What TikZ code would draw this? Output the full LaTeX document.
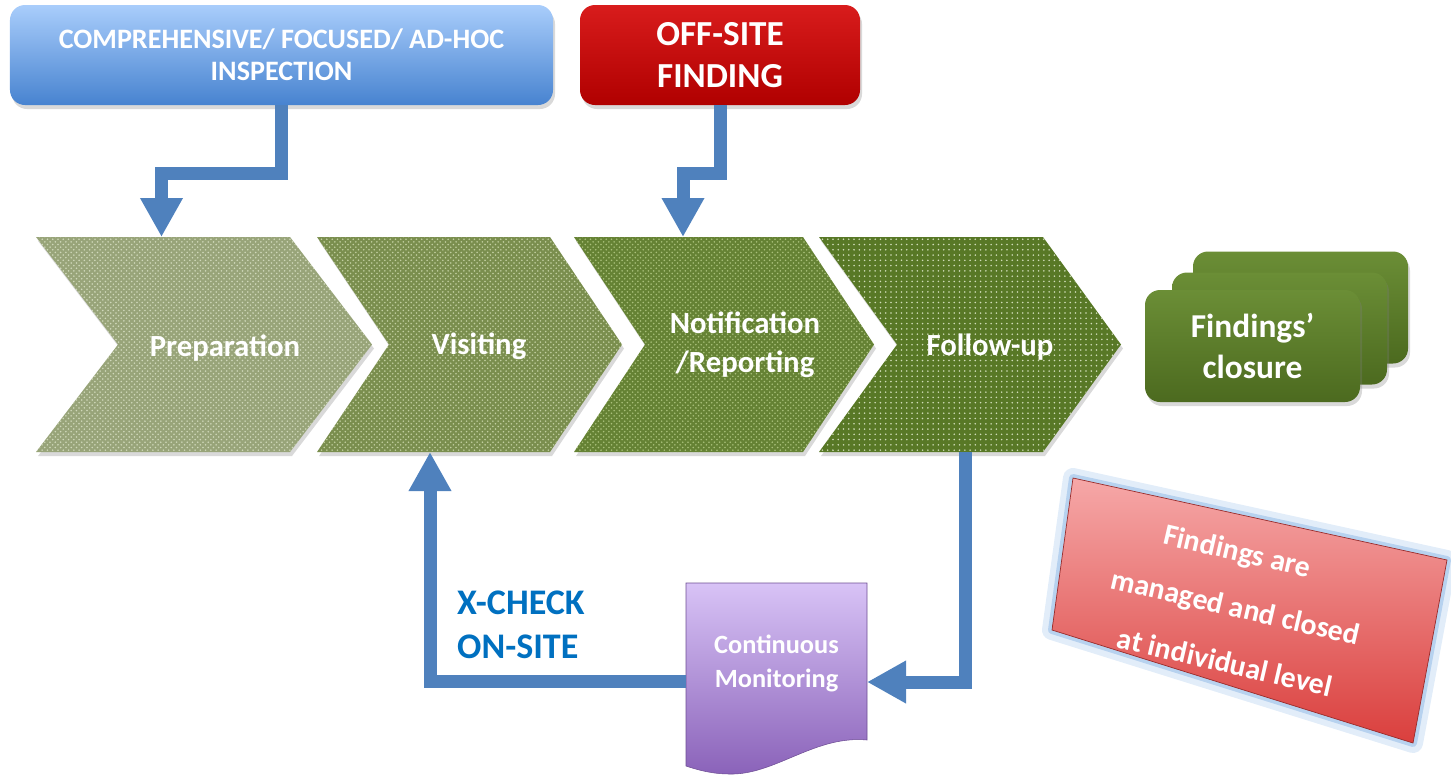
\documentclass[tikz,border=0pt]{standalone}
\usepackage{fontspec}
\setmainfont{Carlito}
\usetikzlibrary{arrows.meta,patterns,shadows}

\definecolor{flowblue}{HTML}{4F81BD}
\definecolor{xblue}{HTML}{0070C0}
\definecolor{inspT}{HTML}{A9CDFB}
\definecolor{inspB}{HTML}{4783D0}
\definecolor{offT}{HTML}{D81C1C}
\definecolor{offB}{HTML}{B00000}
\definecolor{greenT}{HTML}{6B8E36}
\definecolor{greenB}{HTML}{4C6A1F}
\definecolor{chevA}{HTML}{98A479}
\definecolor{chevAdot}{HTML}{D0D8BA}
\definecolor{chevB}{HTML}{7A8E4E}
\definecolor{chevBdot}{HTML}{C2CFA0}
\definecolor{chevC}{HTML}{658234}
\definecolor{chevCdot}{HTML}{A9C07A}
\definecolor{chevD}{HTML}{587826}
\definecolor{chevDdot}{HTML}{D0DCB8}
\definecolor{monT}{HTML}{D8C3F6}
\definecolor{monB}{HTML}{8A62B9}
\definecolor{noteT}{HTML}{F6A8A8}
\definecolor{noteB}{HTML}{DA3F3D}
\definecolor{glow}{HTML}{8DB7E6}

\tikzset{
  flow/.style={draw=flowblue, line width=2.6mm, line join=miter,
    -{Triangle[length=7.8mm,width=8mm]}},
  softshadow/.style={drop shadow={opacity=0.3, shadow xshift=0.4mm, shadow yshift=-0.8mm}},
  srcbox/.style={rounded corners=3mm, minimum height=20mm, inner sep=0pt,
    text=white, align=center, softshadow},
  closebox/.style={rounded corners=3mm, top color=greenT, bottom color=greenB,
    minimum width=43mm, minimum height=22.4mm, inner sep=0pt,
    text=white, align=center, softshadow},
  steptext/.style={text=white, align=center,
    font=\fontsize{17.5}{22}\selectfont\bfseries},
  notetext/.style={text=white, rotate=-13,
    font=\fontsize{17}{20}\selectfont\bfseries},
}

\begin{document}
\begin{tikzpicture}[x=0.2mm, y=-0.2mm]
\useasboundingbox (0,0) rectangle (1451,777);

% sources
\node[srcbox, top color=inspT, bottom color=inspB, minimum width=108.6mm,
  font=\fontsize{16}{18}\selectfont\bfseries] (insp) at (281.5,55)
  {COMPREHENSIVE/ FOCUSED/ AD-HOC\\INSPECTION};
\node[srcbox, top color=offT, bottom color=offB, minimum width=56mm,
  font=\fontsize{20}{23.5}\selectfont\bfseries] (off) at (720,55)
  {OFF-SITE\\FINDING};

% process chevrons
\path[softshadow, fill=chevA, postaction={pattern=crosshatch dots, pattern color=chevAdot}]
  (36,237) -- (290,237) -- (372,344.5) -- (290,452) -- (36,452) -- (118,344.5) -- cycle;
\path[softshadow, fill=chevB, postaction={pattern=crosshatch dots, pattern color=chevBdot}]
  (317,237) -- (550,237) -- (622,344.5) -- (550,452) -- (317,452) -- (389,344.5) -- cycle;
\path[softshadow, fill=chevC, postaction={pattern=crosshatch dots, pattern color=chevCdot}]
  (574,237) -- (803,237) -- (874,344.5) -- (803,452) -- (574,452) -- (645,344.5) -- cycle;
\path[softshadow, fill=chevD, postaction={pattern=dots, pattern color=chevDdot}]
  (819,237) -- (1043,237) -- (1121,344.5) -- (1043,452) -- (819,452) -- (897,344.5) -- cycle;

\node[steptext] (prep)   at (225,348) {Preparation};
\node[steptext] (visit)  at (479,346) {Visiting};
\node[steptext] (notif)  at (745,345) {Notification\\/Reporting};
\node[steptext] (follow) at (990,347) {Follow-up};

\coordinate (prepin)    at (161.5,237);
\coordinate (notifin)   at (683,237);
\coordinate (visitin)   at (430,452);
\coordinate (followout) at (965,452);

% findings closure stack
\node[closebox] (closeC) at (1300.5,307.5) {};
\node[closebox] (closeB) at (1279.5,328.5) {};
\node[closebox, font=\fontsize{19}{23}\selectfont\bfseries] (close) at (1252.5,346)
  {Findings’\\closure};

% continuous monitoring document
\shade[top color=monT, bottom color=monB, draw=monB!80!black, line width=0.3pt]
  (686,583) -- (867,583) -- (867,740)
  .. controls (815,735) and (775,775) .. (730,774)
  .. controls (712,774) and (698,770) .. (686,766) -- cycle;
\node[text=white, align=center, font=\fontsize{15}{19.3}\selectfont\bfseries]
  (mon) at (776.5,663) {Continuous\\Monitoring};
\coordinate (monin)  at (867,682);
\coordinate (monout) at (686,681);

\node[text=xblue, align=left, anchor=west,
  font=\fontsize{20.5}{25}\selectfont\bfseries] (xchk) at (451,625)
  {X-CHECK\\ON-SITE};

% connectors
\draw[flow] (insp.south) -- ++(0,68) -| (prepin);
\draw[flow] (off.south) -- ++(0,68) -| (notifin);
\draw[flow] (followout) |- (monin);
\draw[flow] (monout) -| (visitin);

% tilted note
\draw[glow, line width=4mm, opacity=0.25, line join=round]
  (1073,478) -- (1447,560) -- (1413,743) -- (1052,630) -- cycle;
\draw[glow, line width=1.6mm, opacity=0.5, line join=round]
  (1073,478) -- (1447,560) -- (1413,743) -- (1052,630) -- cycle;
\shade[top color=noteT, bottom color=noteB, draw=noteB!70!black, line width=0.4pt]
  (1073,478) -- (1447,560) -- (1413,743) -- (1052,630) -- cycle;
\node[notetext] (note1) at (1237,553) {Findings are};
\node[notetext] (note2) at (1235,609) {managed and closed};
\node[notetext] (note3) at (1225,662) {at individual level};

\end{tikzpicture}
\end{document}
